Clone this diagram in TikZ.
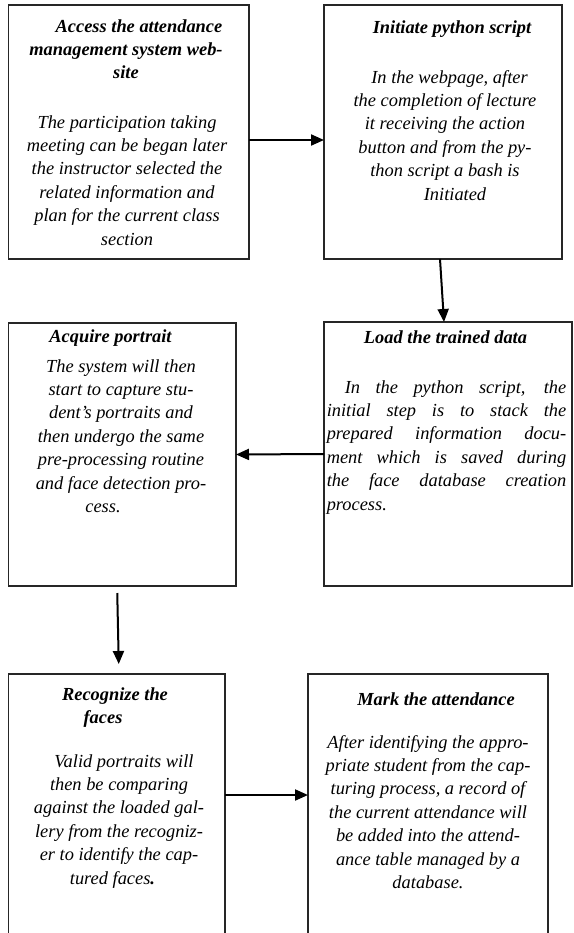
\documentclass[tikz,border=0pt]{standalone}
\usepackage{fontspec}
\setmainfont{Liberation Serif}
\usetikzlibrary{arrows.meta}
\begin{document}
\begin{tikzpicture}[x=1pt,y=-1pt,
  stepbox/.style={draw=black!85, line width=1.3pt, inner sep=0pt, outer sep=0pt, anchor=north west},
  head/.style={anchor=north, inner sep=0pt, align=center,
    font=\fontsize{18.4}{23.2}\selectfont\bfseries\itshape},
  body/.style={anchor=north, inner sep=0pt, align=center,
    font=\fontsize{18.4}{23.4}\selectfont\itshape},
  flow/.style={line width=2pt, -{Triangle[length=13pt,width=11pt]}}]
\path[use as bounding box, clip] (0,0) rectangle (573,933);

% the six process boxes
\node[stepbox, minimum width=240.5pt, minimum height=254pt] (b1) at (8.5,5) {};
\node[stepbox, minimum width=238pt,   minimum height=254pt] (b2) at (324,5) {};
\node[stepbox, minimum width=227.5pt, minimum height=263pt] (b3) at (8.5,323) {};
\node[stepbox, minimum width=248pt,   minimum height=264pt] (b4) at (324,322) {};
\node[stepbox, minimum width=216.5pt, minimum height=276pt] (b5) at (8.5,674) {};
\node[stepbox, minimum width=240pt,   minimum height=276pt] (b6) at (308,674) {};

% box 1
\node[head] (t1) at (126,15.6) {\strut\hspace*{26pt}Access the attendance\\management system web-\\site};
\node[body] (d1) at (127,111.6) {\strut The participation taking\\meeting can be began later\\the instructor selected the\\related information and\\plan for the current class\\section};

% box 2
\node[head] (t2) at (452,16.6) {\strut Initiate python script};
\node[body] (d2) at (445,66.6) {\strut\hspace*{9pt}In the webpage, after\\the completion of lecture\\it receiving the action\\button and from the py-\\thon script a bash is\\\hspace*{20pt}Initiated};

% box 3
\node[head] (t3) at (110.5,325.6) {\strut Acquire portrait};
\node[body] (d3) at (121,355.6) {\strut The system will then\\start to capture stu-\\dent’s portraits and\\then undergo the same\\pre-processing routine\\and face detection pro-\\cess.\rule{36pt}{0pt}};

% box 4
\node[head] (t4) at (445.5,326.6) {\strut Load the trained data};
\node[body, align=justify, text width=239.5pt] (d4) at (446.5,376.6)
  {\strut\hspace*{18pt}In the python script, the\linebreak
   initial step is to stack the\linebreak
   prepared information docu-\linebreak
   ment which is saved during\linebreak
   the face database creation\linebreak
   process.};

% box 5
\node[head] (t5) at (115,683.6) {\strut Recognize the\\faces\rule{24pt}{0pt}};
\node[body] (d5) at (119,750.6) {\strut\hspace*{10pt}Valid portraits will\\then be comparing\\against the loaded gal-\\lery from the recogniz-\\er to identify the cap-\\tured faces\textbf{.}\rule{13pt}{0pt}};

% box 6
\node[head] (t6) at (436,688.6) {\strut Mark the attendance};
\node[body] (d6) at (428,731.6) {\strut After identifying the appro-\\priate student from the cap-\\turing process, a record of\\the current attendance will\\be added into the attend-\\ance table managed by a\\database.};

% connectors
\draw[flow] ([yshift=-8pt]b1.east) -- ([yshift=-8pt]b2.west);
\draw[flow] ([xshift=-3pt]b2.south) -- ([xshift=-4pt]b4.north);
\draw[flow] (b4.west) -- (b3.east);
\draw[flow] ([shift={(-5pt,-7pt)}]b3.south) -- ([shift={(2pt,10pt)}]b5.north);
\draw[flow] ([yshift=17pt]b5.east) -- ([yshift=17pt]b6.west);
\end{tikzpicture}
\end{document}
